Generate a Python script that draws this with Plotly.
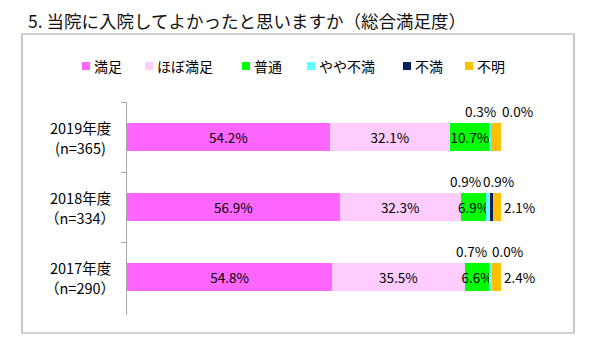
import plotly.graph_objects as go

# ---- data ----
years = ["2019年度", "2018年度", "2017年度"]
year_line1 = ["2019年度", "2018年度", "2017年度"]
year_line2 = ["(n=365)", "（n=334）", "（n=290）"]
series_names = ["満足", "ほぼ満足", "普通", "やや不満", "不満", "不明"]
manzoku = [54.2, 56.9, 54.8]
hobo_manzoku = [32.1, 32.3, 35.5]
futsu = [10.7, 6.9, 6.6]
yaya_fuman = [0.3, 0.9, 0.7]
fuman = [0.0, 0.9, 0.0]
fumei = [2.7, 2.1, 2.4]
title_text = "5. 当院に入院してよかったと思いますか（総合満足度）"

# ---- style ----
colors = ["#FF66FF", "#FFCCFF", "#00FF00", "#66FFFF", "#002060", "#FFC000"]
FONT = "Noto Sans CJK JP, Noto Sans, sans-serif"
W, H = 594, 354
L, R, T, B = 127, 93, 102, 39
pw, ph = W - L - R, H - T - B
# small-label offsets (px) per row, for やや不満 / 不満 labels
yaya_dx = [-10, -23, -19]
fuman_dx = [27, 7, 15]
small_dy = 26
legend_px = [82, 145, 242, 307, 403, 465]   # legend square left edges (px)
legend_py = 66


def px_x(p):
    return (p - L) / pw


def px_y(p):
    return (T + ph - p) / ph


series = [manzoku, hobo_manzoku, futsu, yaya_fuman, fuman, fumei]
fig = go.Figure()
for i, (name, vals) in enumerate(zip(series_names, series)):
    kw = {}
    if i < 3:
        kw = dict(text=[f"{v:.1f}%" for v in vals], textposition="inside",
                  insidetextanchor="middle", textangle=0,
                  textfont=dict(size=13.5, color="black", family=FONT))
    elif i == 5:
        kw = dict(text=[f"{v:.1f}%" for v in vals], textposition="outside",
                  textangle=0,
                  textfont=dict(size=13.5, color="black", family=FONT),
                  cliponaxis=False)
    fig.add_trace(go.Bar(
        y=years, x=vals, name=name, orientation="h",
        marker=dict(color=colors[i], line=dict(width=0)),
        constraintext="none", hoverinfo="skip", showlegend=False, **kw))

ann = []
shapes = []
for j, yr in enumerate(years):
    base = manzoku[j] + hobo_manzoku[j] + futsu[j]
    ann.append(dict(x=base + yaya_fuman[j] / 2, y=yr, xref="x", yref="y",
                    text=f"{yaya_fuman[j]:.1f}%", showarrow=False,
                    xshift=yaya_dx[j], yshift=small_dy,
                    font=dict(size=13.5, color="black", family=FONT)))
    ann.append(dict(x=base + yaya_fuman[j] + fuman[j] / 2, y=yr, xref="x", yref="y",
                    text=f"{fuman[j]:.1f}%", showarrow=False,
                    xshift=fuman_dx[j], yshift=small_dy,
                    font=dict(size=13.5, color="black", family=FONT)))
    ann.append(dict(x=px_x(80), y=yr, xref="paper", yref="y",
                    xanchor="center", yanchor="middle", yshift=10,
                    text=year_line1[j], showarrow=False,
                    font=dict(size=14.5, color="black", family=FONT)))
    ann.append(dict(x=px_x(80), y=yr, xref="paper", yref="y",
                    xanchor="center", yanchor="middle", yshift=-10,
                    text=year_line2[j], showarrow=False,
                    font=dict(size=14.5, color="black", family=FONT)))

# legend (squares + labels)
for k, name in enumerate(series_names):
    x0 = legend_px[k]
    shapes.append(dict(type="rect", xref="paper", yref="paper",
                       x0=px_x(x0), x1=px_x(x0 + 8),
                       y0=px_y(legend_py + 4), y1=px_y(legend_py - 4),
                       line=dict(width=0), fillcolor=colors[k]))
    ann.append(dict(x=px_x(x0 + 10), y=px_y(legend_py), xref="paper", yref="paper",
                    xanchor="left", yanchor="middle", text=name, showarrow=False,
                    font=dict(size=14, color="black", family=FONT)))

ann.append(dict(x=px_x(26), y=px_y(20), xref="paper", yref="paper",
                xanchor="left", yanchor="middle", text=title_text, showarrow=False,
                font=dict(size=17.5, color="#111111", family=FONT)))

shapes.append(dict(type="rect", xref="paper", yref="paper",
                   x0=px_x(22), x1=px_x(574), y0=px_y(333), y1=px_y(34),
                   line=dict(color="#A6A6A6", width=1.2), fillcolor="rgba(0,0,0,0)",
                   layer="below"))

fig.update_layout(
    width=W, height=H, margin=dict(l=L, r=R, t=T, b=B),
    barmode="stack", bargap=0.59,
    plot_bgcolor="white", paper_bgcolor="white",
    font=dict(family=FONT, color="black"),
    xaxis=dict(range=[0, 100], visible=False, fixedrange=True),
    yaxis=dict(autorange="reversed", showticklabels=False, showline=True,
               linecolor="#A6A6A6", linewidth=1, ticks="outside", ticklen=5,
               tickcolor="#A6A6A6", tickson="boundaries", showgrid=False,
               zeroline=False),
    annotations=ann, shapes=shapes, showlegend=False,
)
fig.write_html("out.html")
